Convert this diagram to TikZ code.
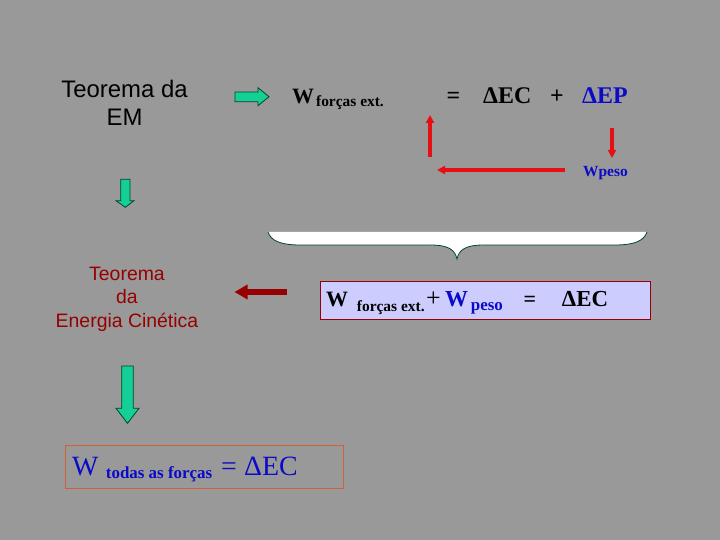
\documentclass[tikz,border=0pt]{standalone}
\usepackage{fontspec}
\setmainfont{Liberation Serif}
\newfontfamily\arialfnt{Liberation Sans}
\usetikzlibrary{positioning,arrows.meta}
\definecolor{SlideGray}{RGB}{153,153,153}
\definecolor{MintGreen}{RGB}{20,208,150}
\definecolor{DarkGreen}{RGB}{0,70,35}
\definecolor{EqBlue}{RGB}{10,10,200}
\definecolor{DeepRed}{RGB}{150,0,0}
\definecolor{ArrowRed}{RGB}{230,15,20}
\definecolor{Lavender}{RGB}{204,204,255}
\definecolor{RustLine}{RGB}{210,95,55}

\begin{document}
\begin{tikzpicture}[x=1bp, y=-1bp, every node/.style={inner sep=0pt}]
\tikzset{
  sanstxt/.style={font=\arialfnt\fontsize{24}{28}\selectfont, align=center},
  redtxt/.style={font=\arialfnt\fontsize{19.5}{23.5}\selectfont, align=center, text=DeepRed},
  eq/.style={anchor=base west},
  blockarr/.style={fill=MintGreen, draw=DarkGreen, line width=0.8bp},
  redarr/.style={ArrowRed, line width=4bp, -{Triangle[width=8bp,length=8bp]}},
  darkarr/.style={DeepRed, line width=6.5bp, -{Triangle[width=14bp,length=13bp]}},
  ecbox/.style={draw=DeepRed, fill=Lavender, line width=1bp, minimum width=330bp, minimum height=38bp},
  allbox/.style={draw=RustLine, line width=1bp, minimum width=278bp, minimum height=43bp}
}
  \fill[SlideGray] (0,0) rectangle (720,540);
  \useasboundingbox (0,0) rectangle (720,540);

  \node[sanstxt] (em) at (124.5,103) {Teorema da\\EM};
  \node[redtxt] (tec) at (127,299) {Teorema\\da\\Energia Cinética};

  \node[eq] (wext) at (292,104) {{\fontsize{22}{22}\selectfont\bfseries W}\hspace{2bp}\raisebox{-3bp}{\fontsize{15.5}{15.5}\selectfont\bfseries forças ext.}};
  \node[eq] (eqs) at (446.5,104) {\fontsize{24}{24}\selectfont\bfseries =};
  \node[eq] (dec) at (483,104) {\fontsize{24}{24}\selectfont\bfseries ΔEC};
  \node[eq] (plus) at (550,104) {\fontsize{24}{24}\selectfont\bfseries +};
  \node[eq, text=EqBlue] (dep) at (582,104) {\fontsize{24}{24}\selectfont\bfseries ΔEP};
  \node[eq, text=EqBlue] (wpeso) at (583,177) {\fontsize{15.5}{15.5}\selectfont\bfseries Wpeso};

  \coordinate (pdown) at (612,128);
  \coordinate (pturn) at (565,170);
  \coordinate (pleft) at (437,170);
  \coordinate (pbase) at (430,157);
  \coordinate (pup) at (430,115);
  \draw[redarr] (pdown) -- (612,158);
  \draw[redarr] (pturn) -- (pleft);
  \draw[redarr] (pbase) -- (pup);

  \fill[white] (268,232) .. controls (271,241) and (281,245) .. (300,245) -- (430,245)
    .. controls (449,245) and (455,250) .. (457,259) .. controls (459,250) and (465,245) .. (484,245)
    -- (615,245) .. controls (634,245) and (644,241) .. (647,232) -- cycle;
  \draw[DarkGreen, line width=0.8bp] (268,232) .. controls (271,241) and (281,245) .. (300,245) -- (430,245)
    .. controls (449,245) and (455,250) .. (457,259) .. controls (459,250) and (465,245) .. (484,245)
    -- (615,245) .. controls (634,245) and (644,241) .. (647,232);

  \node[ecbox] (ec) at (485,300) {};
  \node[eq] (bw) at (326,306.7) {\fontsize{22}{22}\selectfont\bfseries W};
  \node[eq] (bext) at (356.7,311) {\fontsize{15.5}{15.5}\selectfont\bfseries forças ext.};
  \node[eq] (bplus) at (426,306.7) {\fontsize{26}{26}\selectfont +};
  \node[eq, text=EqBlue] (bwp) at (445,306.7) {\fontsize{23}{23}\selectfont\bfseries W};
  \node[eq, text=EqBlue] (bpeso) at (470.7,310.5) {\fontsize{17}{17}\selectfont\bfseries peso};
  \node[eq] (beq) at (523.5,306.7) {\fontsize{22}{22}\selectfont\bfseries =};
  \node[eq] (bdec) at (561.7,306.7) {\fontsize{23}{23}\selectfont\bfseries ΔEC};
  \draw[darkarr] ([xshift=-33bp,yshift=8bp]ec.west) -- ++(-52,0);

  \node[allbox] (all) at (204.2,466.7) {};
  \node[eq, text=EqBlue] (aw) at (72,475) {\fontsize{28}{28}\selectfont W};
  \node[eq, text=EqBlue] (atodas) at (105.7,478.3) {\fontsize{17}{17}\selectfont\bfseries todas as forças};
  \node[eq, text=EqBlue] (aeq) at (221,475) {\fontsize{28}{28}\selectfont =};
  \node[eq, text=EqBlue] (adec) at (244,475) {\fontsize{28}{28}\selectfont ΔEC};

  \draw[blockarr] (235,92) -- (258,92) -- (258,87.7) -- (269,96.7) -- (258,105.7) -- (258,101.7) -- (235,101.7) -- cycle;
  \draw[blockarr] (120.7,179.3) -- (130,179.3) -- (130,200.7) -- (134,200.7) -- (125.3,207.3) -- (116,200.7) -- (120.7,200.7) -- cycle;
  \draw[blockarr] (121.7,366) -- (133.3,366) -- (133.3,408.3) -- (139,408.3) -- (127.5,423.3) -- (116,408.3) -- (121.7,408.3) -- cycle;
\end{tikzpicture}
\end{document}
